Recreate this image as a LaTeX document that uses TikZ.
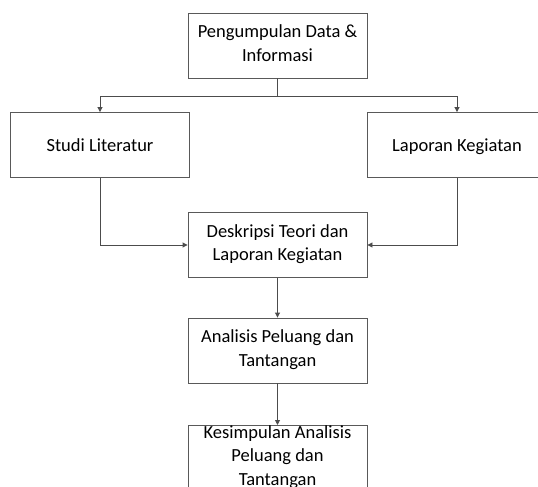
\documentclass[tikz,border=0pt]{standalone}
\usepackage{fontspec}
\setmainfont{Carlito}
\usetikzlibrary{arrows.meta}

\newcommand{\stagestrut}{\rule[-4.8pt]{0pt}{23pt}}

\tikzset{
  stage/.style={draw=black!65, line width=0.9pt, minimum width=179pt, minimum height=65pt,
    inner sep=0pt, align=center, font=\fontsize{18.5}{23.4}\selectfont,
    execute at begin node=\stagestrut, execute at end node=\stagestrut},
  link/.style={draw=black!70, line width=0.9pt, -{Triangle[width=5pt,length=5pt]}}
}

\begin{document}
\begin{tikzpicture}[x=1pt, y=-1pt]
\useasboundingbox (0, 0) rectangle (538, 487);
\clip (0, 0) rectangle (538, 487);
\node[stage] (data) at (277.5, 45.5) {Pengumpulan Data \&\\Informasi};
\node[stage] (studi) at (100, 145) {Studi Literatur};
\node[stage] (lapor) at (457, 145) {Laporan Kegiatan};
\node[stage] (teori) at (277.5, 245) {Deskripsi Teori dan\\Laporan Kegiatan};
\node[stage] (analisis) at (277.5, 350.5) {Analisis Peluang dan\\Tantangan};
\node[stage, anchor=north] (simpul) at (277.5, 425) {Kesimpulan Analisis\\Peluang dan\\Tantangan};
\coordinate (split) at (277.5, 96);
\draw[draw=black!70, line width=0.9pt] (data.south) -- (split);
\draw[link] (split) -| (studi.north);
\draw[link] (split) -| (lapor.north);
\draw[link] (studi.south) |- (teori.west);
\draw[link] (lapor.south) |- (teori.east);
\draw[link] (teori.south) -- (analisis.north);
\draw[link] (analisis.south) -- (simpul.north);
\end{tikzpicture}
\end{document}
